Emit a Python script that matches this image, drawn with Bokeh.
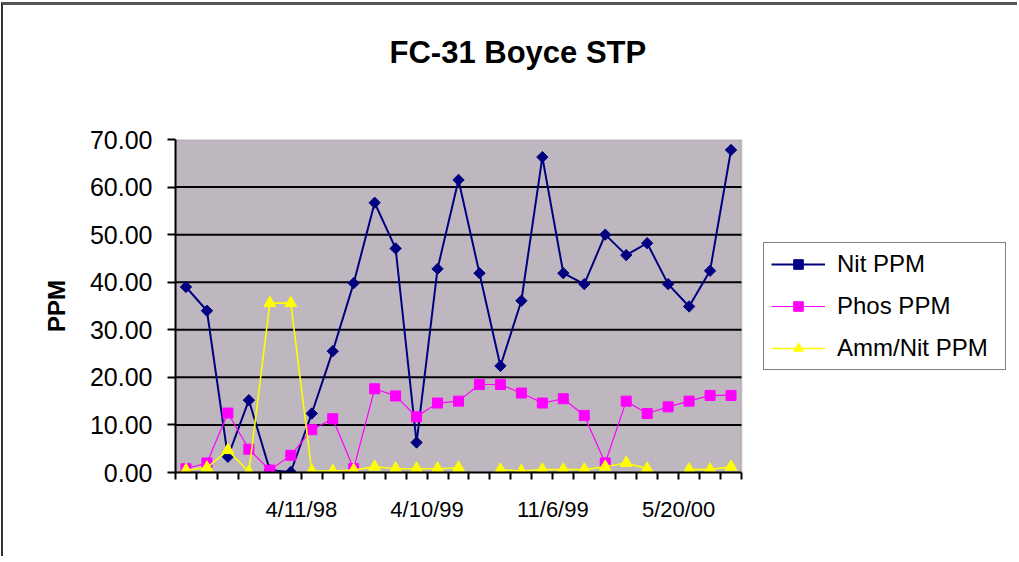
import math
from bokeh.plotting import figure
from bokeh.models import (Range1d, FixedTicker, Legend, LegendItem, ColumnDataSource,
                          BoxAnnotation, Title)
from bokeh.embed import file_html
from bokeh.resources import INLINE

# ---- data ----
samples = [1, 2, 3, 4, 5, 6, 7, 8, 9, 10, 11, 12, 13, 14, 15, 16, 17, 18, 19,
           20, 21, 22, 23, 24, 25, 26, 27]
nit_ppm = [39.0, 34.0, 3.3, 15.2, 0.5, 0.1, 12.4, 25.5, 39.8, 56.7, 47.1, 6.3,
           42.8, 61.5, 41.9, 22.4, 36.1, 66.3, 41.9, 39.6, 50.0, 45.7, 48.2,
           39.6, 34.9, 42.4, 67.8]
phos_ppm = [0.8, 2.0, 12.5, 4.9, 0.5, 3.6, 9.0, 11.3, 0.8, 17.6, 16.1, 11.7,
            14.6, 15.0, 18.5, 18.5, 16.7, 14.6, 15.5, 12.0, 2.0, 15.0, 12.4,
            13.8, 15.0, 16.2, 16.2]
amm_nit_ppm = [0.5, 1.0, 4.7, 0.1, 35.6, 35.6, 0.3, 0.3, 0.5, 1.2, 0.8, 0.8,
               0.8, 1.0, float("nan"), 0.6, 0.3, 0.6, 0.6, 0.6, 1.2, 2.0, 0.8,
               float("nan"), 0.6, 0.6, 1.2]
tick_labels = ["4/11/98", "4/10/99", "11/6/99", "5/20/00"]
tick_label_slots = [6, 12, 18, 24]
y_ticks = [0, 10, 20, 30, 40, 50, 60, 70]

n = len(samples)
xs = [s - 0.5 for s in samples]  # category centres
src = ColumnDataSource(dict(x=xs, nit=nit_ppm, phos=phos_ppm, amm=amm_nit_ppm))

FONT = "Liberation Sans"

# layout (pixels)
W, H = 1016, 554
LEFT, RIGHT, TOP, BOTTOM = 172, 4, 134, 87
PLOT_W = 566                      # width of the grey plot area
FRAME_W = W - LEFT - RIGHT        # frame also hosts the legend on its right
x_end = n * FRAME_W / PLOT_W
y_top = y_ticks[-1]

p = figure(width=W, height=H, output_backend="svg", toolbar_location=None,
           x_range=Range1d(0, x_end), y_range=Range1d(0, y_top),
           min_border_left=LEFT, min_border_right=RIGHT,
           min_border_top=TOP, min_border_bottom=BOTTOM,
           background_fill_color="white", border_fill_color="white")
p.styles = {"margin-top": "2px", "margin-left": "1px",
            "border-top": "3px solid #555555", "border-left": "2px solid #333333"}
p.outline_line_color = None
p.xgrid.visible = False
p.ygrid.visible = False

# titles: spacer first (nearest the frame), then the real title
p.title.text = ""
p.add_layout(Title(text=" ", text_font_size="10px", standoff=57), "above")
p.add_layout(Title(text="FC-31 Boyce STP", text_font=FONT, text_font_size="31px",
                   text_font_style="bold", text_color="black", align="left",
                   offset=214, standoff=0, vertical_align="bottom"), "above")

# grey plot area with grey top/right border
p.add_layout(BoxAnnotation(left=0, right=n, bottom=0, top=y_top,
                           fill_color="#BFB7BF", fill_alpha=1,
                           line_color="#808080", line_width=2, level="underlay"))

# horizontal grid lines
grid_y = y_ticks[1:-1]
p.segment(x0=[0] * len(grid_y), x1=[n] * len(grid_y), y0=grid_y, y1=grid_y,
          line_color="black", line_width=2)

# x axis
p.xaxis.bounds = (0, n)
p.xaxis.ticker = FixedTicker(ticks=list(range(0, n + 1)))
overrides = {i: "" for i in range(0, n + 1)}
for slot, lab in zip(tick_label_slots, tick_labels):
    overrides[slot] = lab
p.xaxis.major_label_overrides = overrides
p.xaxis.axis_line_color = "black"
p.xaxis.axis_line_width = 2
p.xaxis.major_tick_line_color = "black"
p.xaxis.major_tick_line_width = 2
p.xaxis.major_tick_in = 0
p.xaxis.major_tick_out = 7
p.xaxis.minor_tick_line_color = None
p.xaxis.major_label_text_font = FONT
p.xaxis.major_label_text_font_size = "22px"
p.xaxis.major_label_text_color = "black"
p.xaxis.major_label_standoff = 17

# y axis
p.yaxis.ticker = FixedTicker(ticks=y_ticks)
p.yaxis.major_label_overrides = {t: f"{t:.2f}" for t in y_ticks}
p.yaxis.axis_line_color = "black"
p.yaxis.axis_line_width = 2
p.yaxis.major_tick_line_color = "black"
p.yaxis.major_tick_line_width = 2
p.yaxis.major_tick_in = 0
p.yaxis.major_tick_out = 8
p.yaxis.minor_tick_line_color = None
p.yaxis.major_label_text_font = FONT
p.yaxis.major_label_text_font_size = "25px"
p.yaxis.major_label_text_color = "black"
p.yaxis.major_label_standoff = 15
p.yaxis.axis_label = "PPM"
p.yaxis.axis_label_text_font = FONT
p.yaxis.axis_label_text_font_size = "24px"
p.yaxis.axis_label_text_font_style = "bold"
p.yaxis.axis_label_text_color = "black"
p.yaxis.axis_label_standoff = 17

# series
NAVY, MAG, YEL = "#000080", "#FF00FF", "#FFFF00"
l1 = p.line("x", "nit", source=src, line_color=NAVY, line_width=2)
m1 = p.scatter("x", "nit", source=src, marker="square", angle=math.pi / 4,
               size=8, fill_color=NAVY, line_color=NAVY)
l2 = p.line("x", "phos", source=src, line_color=MAG, line_width=1.2)
m2 = p.scatter("x", "phos", source=src, marker="square", size=10,
               fill_color=MAG, line_color=MAG)
l3 = p.line("x", "amm", source=src, line_color=YEL, line_width=1.6)
m3 = p.scatter("x", "amm", source=src, marker="triangle", size=12,
               fill_color=YEL, line_color=YEL)

legend = Legend(items=[
    LegendItem(label="Nit PPM", renderers=[l1, m1]),
    LegendItem(label="Phos PPM", renderers=[l2, m2]),
    LegendItem(label="Amm/Nit PPM", renderers=[l3, m3]),
], location=(PLOT_W + 22, 102))
legend.border_line_color = "black"
legend.border_line_width = 1
legend.background_fill_color = "white"
legend.background_fill_alpha = 1
legend.label_text_font = FONT
legend.label_text_font_size = "24px"
legend.label_text_color = "black"
legend.glyph_width = 54
legend.glyph_height = 24
legend.label_height = 24
legend.label_width = 161
legend.label_standoff = 12
legend.spacing = 14
legend.padding = 7
legend.margin = 0
p.add_layout(legend, "center")

open("out.html", "w").write(file_html(p, INLINE))
